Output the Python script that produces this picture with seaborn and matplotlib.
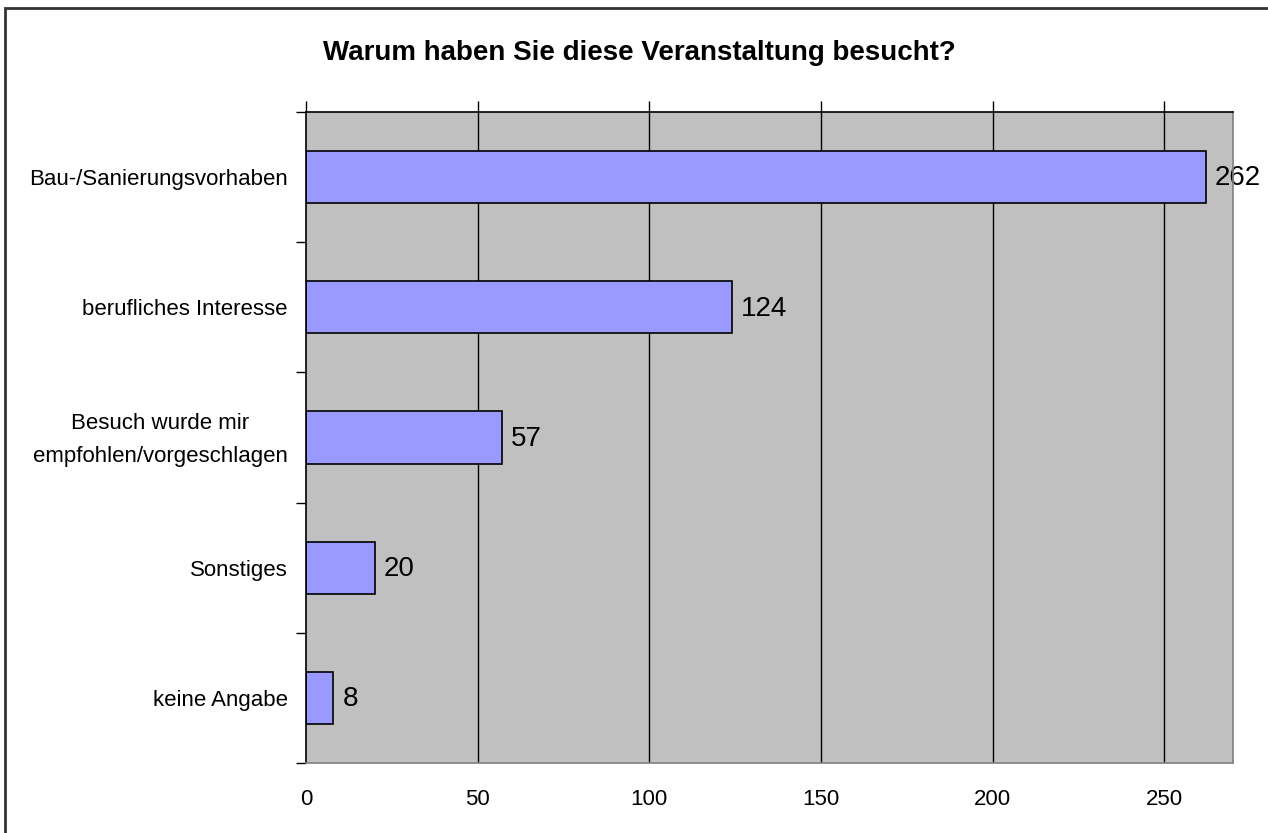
import matplotlib.pyplot as plt
import matplotlib.transforms as mtransforms
import numpy as np
import pandas as pd
import seaborn as sns
from matplotlib.patches import Rectangle

categories = ['Bau-/Sanierungsvorhaben', 'berufliches Interesse',
              'Besuch wurde mir\nempfohlen/vorgeschlagen', 'Sonstiges', 'keine Angabe']
counts = [262, 124, 57, 20, 8]
x_ticks = [0, 50, 100, 150, 200, 250]

sns.set_style('white')
plt.rcParams['font.family'] = ['Liberation Sans', 'DejaVu Sans']
plt.rcParams['text.color'] = 'black'
plt.rcParams['xtick.color'] = 'black'
plt.rcParams['ytick.color'] = 'black'

df = pd.DataFrame({'grund': categories, 'anzahl': counts})

W, H = 1268, 833
fig = plt.figure(figsize=(W / 100, H / 100), dpi=100)
ax = fig.add_axes([306 / W, 1 - 763 / H, (1233 - 306) / W, (763 - 112) / H])
ax.set_facecolor('#C0C0C0')

sns.barplot(data=df, x='anzahl', y='grund', orient='h', color='#9999FF',
            edgecolor='black', linewidth=1.2, width=0.4, saturation=1, ax=ax, zorder=3)

ax.set_xlim(0, 270)
ax.set_ylim(4.5, -0.5)
ax.set_xlabel('')
ax.set_ylabel('')

# vertikale Gitterlinien
for v in x_ticks[1:]:
    ax.axvline(v, color='black', lw=1, zorder=1)

# Werte an den Balken
for i, c in enumerate(counts):
    ax.text(c + 2.6, i + 0.01, str(c), va='center', ha='left', fontsize=20, zorder=4)

# x-Achse: Striche oben, Beschriftung unten
ax.set_xticks(x_ticks)
ax.set_xticklabels([str(t) for t in x_ticks], fontsize=16)
ax.tick_params(axis='x', top=True, bottom=False, labeltop=False, labelbottom=True,
               direction='out', length=8, width=1, color='black', pad=11)

# y-Achse: Beschriftung mittig, Striche zwischen Kategorien
ax.set_yticks(range(len(categories)))
ax.set_yticklabels(categories, fontsize=16, multialignment='center', linespacing=1.72)
ax.tick_params(axis='y', which='major', length=0, pad=13)
ax.set_yticks(np.arange(-0.5, len(categories) + 0.5, 1), minor=True)
ax.tick_params(axis='y', which='minor', left=True, length=7, width=1, color='black')

# zweizeiliges Label etwas nach oben schieben
lbl = ax.get_yticklabels()[2]
lbl.set_transform(lbl.get_transform() + mtransforms.ScaledTranslation(0, 6 / 100, fig.dpi_scale_trans))

for s in ['left', 'top']:
    ax.spines[s].set_color('black')
    ax.spines[s].set_linewidth(1.2)
for s in ['right', 'bottom']:
    ax.spines[s].set_color('#808080')
    ax.spines[s].set_linewidth(1.2)
for s in ax.spines.values():
    s.set_visible(True)
    s.set_zorder(5)

fig.text(639 / W, 1 - 53 / H, 'Warum haben Sie diese Veranstaltung besucht?',
         ha='center', va='center', fontsize=20, fontweight='bold')

fig.patches.append(Rectangle((5 / W, -0.1), 2, 1 - 8 / H + 0.1, transform=fig.transFigure,
                             fill=False, edgecolor='#333333', lw=2))

fig.savefig('out.png', dpi=100)
